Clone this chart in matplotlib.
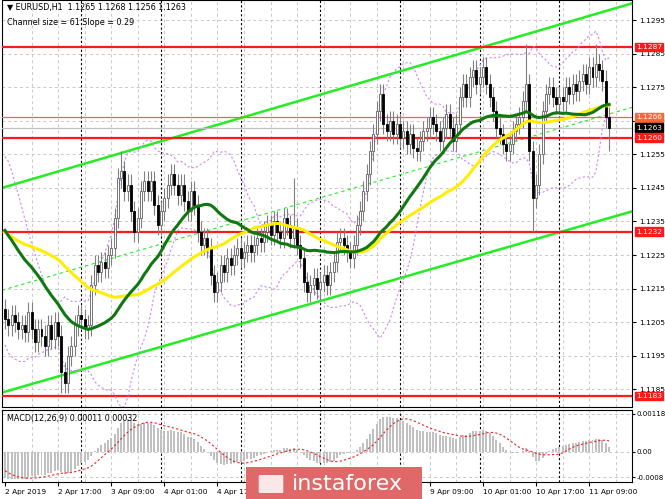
import matplotlib
matplotlib.use("Agg")
import matplotlib.pyplot as plt
import matplotlib.transforms as mtransforms
from matplotlib.patches import Rectangle, FancyBboxPatch
import numpy as np
import pandas as pd

# hourly closes of 1 Apr (not shown, only feeds the indicators)
warmup = [1.1232, 1.1236, 1.1240, 1.1238, 1.1235, 1.1230, 1.1226, 1.1224, 1.1222, 1.1220,
          1.1218, 1.1221, 1.1225, 1.1228, 1.1226, 1.1230, 1.1233, 1.1236, 1.1240, 1.1244,
          1.1246, 1.1250, 1.1248, 1.1252, 1.1249, 1.1246, 1.1244, 1.1240, 1.1236, 1.1238,
          1.1241, 1.1243, 1.1246, 1.1247, 1.1244, 1.1242, 1.1240, 1.1236, 1.1233, 1.1230,
          1.1228, 1.1225, 1.1222, 1.1218, 1.1215, 1.1213, 1.1210, 1.1211, 1.1208, 1.1209]

closes = [
    1.1206, 1.1204, 1.1207, 1.1205, 1.1203, 1.1204, 1.1202, 1.1208, 1.1203, 1.1199, 1.1203, 1.1201,
    1.1198, 1.1204, 1.1200, 1.1205, 1.1201, 1.1190, 1.1187, 1.1195, 1.1198, 1.1204, 1.1207,
    1.1206, 1.1203, 1.1204, 1.1216, 1.1222, 1.1220, 1.1223, 1.1221, 1.1225, 1.1227, 1.1236, 1.1248,
    1.1250, 1.1244, 1.1246, 1.1238, 1.1232, 1.1236, 1.1244, 1.1247, 1.1244, 1.1247, 1.1240, 1.1234, 1.1238,
    1.1242, 1.1246, 1.1249, 1.1246, 1.1243, 1.1246, 1.1241, 1.1238, 1.1244, 1.1240, 1.1232, 1.1228,
    1.1230, 1.1227, 1.1219, 1.1214, 1.1217, 1.1222, 1.1220, 1.1224, 1.1222, 1.1225, 1.1227, 1.1224,
    1.1226, 1.1228, 1.1226, 1.1228, 1.1230, 1.1229, 1.1232, 1.1234, 1.1231, 1.1235, 1.1232, 1.1230,
    1.1236, 1.1234, 1.1230, 1.1233, 1.1228, 1.1224, 1.1217, 1.1214, 1.1216, 1.1218, 1.1215, 1.1217,
    1.1219, 1.1216, 1.1220, 1.1223, 1.1229, 1.1230, 1.1228, 1.1226, 1.1224, 1.1228, 1.1234, 1.1238,
    1.1244, 1.1249, 1.1256, 1.1261, 1.1268, 1.1273, 1.1264, 1.1262, 1.1265, 1.1261, 1.1264, 1.1260,
    1.1262, 1.1258, 1.1261, 1.1257, 1.1256, 1.1259, 1.1262, 1.1263, 1.1266, 1.1264, 1.1262, 1.1259,
    1.1263, 1.1267, 1.1263, 1.1259, 1.1264, 1.1272, 1.1276, 1.1272, 1.1278, 1.1280, 1.1276, 1.1278,
    1.1281, 1.1276, 1.1272, 1.1268, 1.1263, 1.1261, 1.1258, 1.1256, 1.1258, 1.1262, 1.1264, 1.1266,
    1.1271, 1.1276, 1.1256, 1.1242, 1.1246, 1.1255, 1.1268, 1.1273, 1.1275, 1.1272, 1.1270, 1.1272,
    1.1271, 1.1275, 1.1273, 1.1276, 1.1274, 1.1277, 1.1279, 1.1276, 1.1281, 1.1278, 1.1282, 1.1280,
    1.1277, 1.1266, 1.1263,
]

# bars whose wicks stick out well beyond the body: index -> (high, low)
spikes = {17: (None, 1.1184), 35: (1.1256, None), 87: (1.1248, None), 113: (1.1276, None),
          157: (1.1288, None), 159: (None, 1.1232), 178: (1.1288, None), 182: (None, 1.1256)}

tick_labels = ["2 Apr 2019", "2 Apr 17:00", "3 Apr 09:00", "4 Apr 01:00", "4 Apr 17:00",
               "5 Apr 09:00", "8 Apr 01:00", "8 Apr 17:00", "9 Apr 09:00", "10 Apr 01:00",
               "10 Apr 17:00", "11 Apr 09:00"]
day_starts = [23, 47, 71, 95, 119, 143, 167]

red_levels = [1.1287, 1.1260, 1.1232, 1.1183]
orange_level = 1.1266
last_price = 1.1263
upper_channel = (1.1245, 1.1300)  # price at left and right edge
lower_channel = (1.1184, 1.1238)
price_ticks = [1.1295, 1.1285, 1.1275, 1.1265, 1.1255, 1.1245, 1.1235, 1.1225,
               1.1215, 1.1205, 1.1195, 1.1185]

# ---- indicators
full = pd.Series(warmup + closes)
n0 = len(warmup)
ma_green = full.rolling(30).mean().iloc[n0:].to_numpy()
ma_yellow = full.rolling(50).mean().iloc[n0:].to_numpy()
mid20 = full.rolling(20).mean()
sd20 = full.rolling(20).std(ddof=0)
bb_up = (mid20 + 2 * sd20).iloc[n0:].to_numpy()
bb_dn = (mid20 - 2 * sd20).iloc[n0:].to_numpy()
macd = full.ewm(span=12, adjust=False).mean() - full.ewm(span=26, adjust=False).mean()
signal = macd.rolling(9).mean()
macd = macd.iloc[n0:].to_numpy()
signal = signal.iloc[n0:].to_numpy()

W, H = 665, 499
fig = plt.figure(figsize=(W / 100, H / 100), dpi=100)
plt.rcParams["font.family"] = "DejaVu Sans"
left, right = 2 / W, 632 / W
ax = fig.add_axes([left, 1 - 407 / H, right - left, 407 / H])
axm = fig.add_axes([left, 1 - 482 / H, right - left, 72 / H])

x0, x1 = -0.9, 188.9
ax.set_xlim(x0, x1)
axm.set_xlim(x0, x1)
ax.set_ylim(1.11797, 1.1301)
axm.set_ylim(-0.00095, 0.0013)

grid_x = list(range(8, 189, 8))
for a in (ax, axm):
    for gx in grid_x:
        a.axvline(gx, color="#c8c8c8", lw=0.7, ls=(0, (3, 3)), zorder=0)
    for d in day_starts:
        a.axvline(d, color="black", lw=0.8, ls=(0, (2, 2)), zorder=1)
    for s in a.spines.values():
        s.set_linewidth(0.8)
for p in price_ticks:
    ax.axhline(p, color="#c8c8c8", lw=0.7, ls=(0, (3, 3)), zorder=0)
for p in (0.00118, 0.0, -0.0008):
    axm.axhline(p, color="#c8c8c8", lw=0.7, ls=(0, (3, 3)), zorder=0)

# channel
ax.plot([x0, x1], upper_channel, color="#22ee22", lw=1.8, zorder=2)
ax.plot([x0, x1], lower_channel, color="#22ee22", lw=1.8, zorder=2)
ax.plot([x0, x1], [(upper_channel[0] + lower_channel[0]) / 2, (upper_channel[1] + lower_channel[1]) / 2],
        color="#22ee22", lw=0.8, ls=(0, (3, 3)), zorder=2)

# levels
for lv in red_levels:
    ax.axhline(lv, color="#ff1a1a", lw=1.6, zorder=3)
ax.axhline(orange_level, color="#ff6633", lw=0.9, zorder=3)
ax.axhline(last_price, color="#c0c0c0", lw=0.9, zorder=3)

idx = np.arange(len(closes))
ax.plot(idx, bb_up, color="#cc88ee", lw=0.8, ls=(0, (2, 2)), zorder=3)
ax.plot(idx, bb_dn, color="#cc88ee", lw=0.8, ls=(0, (2, 2)), zorder=3)

# candles
opens = [warmup[-1]] + closes[:-1]
for i, (o, c) in enumerate(zip(opens, closes)):
    hi, lo = max(o, c) + 0.0003, min(o, c) - 0.0003
    if i in spikes:
        sh, sl = spikes[i]
        hi = sh if sh else hi
        lo = sl if sl else lo
    ax.vlines(i, lo, hi, color="#808080", lw=0.8, zorder=4)
    bot, top = min(o, c), max(o, c)
    face = "white" if c >= o else "black"
    ax.add_patch(Rectangle((i - 0.3, bot), 0.6, max(top - bot, 0.00005),
                           facecolor=face, edgecolor="#606060" if c >= o else "black",
                           lw=0.6, zorder=5))

ax.plot(idx, ma_yellow, color="#ffee00", lw=2.2, zorder=6)
ax.plot(idx, ma_green, color="#117711", lw=2.2, zorder=7)

# MACD
axm.bar(idx, macd, width=0.6, color="#c0c0c0", zorder=2)
axm.plot(idx, signal, color="#ee2222", lw=0.8, ls=(0, (2, 2)), zorder=3)

# axes styling
fs = 5.3
ax.yaxis.tick_right()
ax.set_yticks(price_ticks)
ax.set_yticklabels([f"{p:.4f}" for p in price_ticks], fontsize=fs)
ax.set_xticks([])
ax.tick_params(axis="y", length=3, pad=2)
axm.yaxis.tick_right()
axm.set_yticks([0.00118, 0.0, -0.0008])
axm.set_yticklabels(["0.00118", "0.00", "-0.0008"], fontsize=5.0)
axm.tick_params(axis="y", length=2, pad=1)
axm.set_xticks(range(0, 16 * len(tick_labels), 16))
axm.set_xticklabels(tick_labels, fontsize=fs, ha="left")
axm.tick_params(axis="x", length=3, pad=2)

# right-hand price boxes
tr = mtransforms.blended_transform_factory(ax.transAxes, ax.transData)
boxes = [(1.1287, "#ff1a1a"), (orange_level, "#ff6633"), (last_price, "black"),
         (1.1260, "#ff1a1a"), (1.1232, "#ff1a1a"), (1.1183, "#ff1a1a")]
for p, col in boxes:
    ax.text(1.006, p, f"{p:.4f}", transform=tr, fontsize=fs, color="white", va="center",
            ha="left", bbox=dict(boxstyle="square,pad=0.15", fc=col, ec=col), clip_on=False, zorder=10)

ax.text(0.008, 0.992, "\u25bc EURUSD,H1  1.1265 1.1268 1.1256 1.1263", transform=ax.transAxes,
        fontsize=5.8, va="top", ha="left")
ax.text(0.008, 0.957, "Channel size = 61 Slope = 0.29", transform=ax.transAxes,
        fontsize=5.8, va="top", ha="left")
axm.text(0.008, 0.95, "MACD(12,26,9) 0.00011 0.00032", transform=axm.transAxes,
         fontsize=5.8, va="top", ha="left")

# watermark logo
fig.patches.append(Rectangle((246 / W, 0), 176 / W, 32 / H, transform=fig.transFigure,
                             facecolor="#e06868", edgecolor="none", zorder=20))
fig.text(292 / W, 15 / H, "instaforex", color="white", fontsize=16, va="center", ha="left", zorder=21)
fig.patches.append(FancyBboxPatch((260 / W, 7 / H), 22 / W, 16 / H, boxstyle="round,pad=0.002",
                                  transform=fig.transFigure, facecolor="white", edgecolor="none",
                                  alpha=0.85, zorder=21))

fig.savefig("out.png", dpi=100)
